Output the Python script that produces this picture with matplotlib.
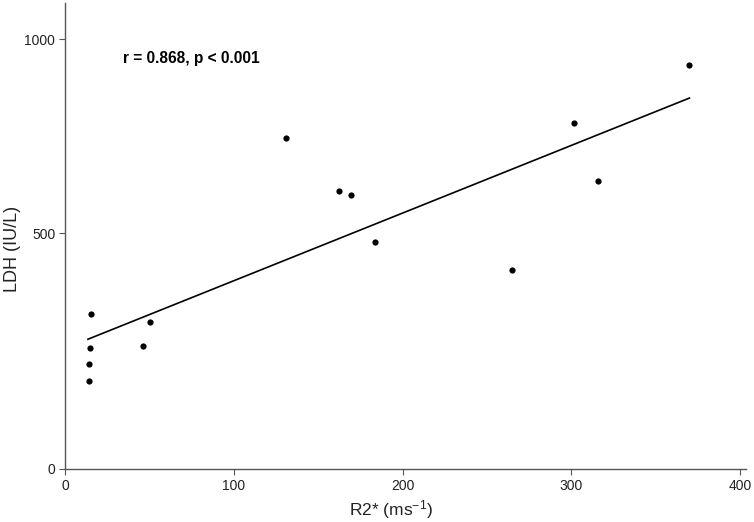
import numpy as np
import matplotlib
matplotlib.use("Agg")
import matplotlib.pyplot as plt

plt.rcParams['font.family'] = ['Liberation Sans', 'DejaVu Sans']
plt.rcParams['mathtext.fontset'] = 'custom'
plt.rcParams['mathtext.rm'] = 'Liberation Sans'
plt.rcParams['mathtext.it'] = 'Liberation Sans'
plt.rcParams['mathtext.bf'] = 'Liberation Sans:bold'

# data (R2* in ms^-1, LDH in IU/L)
r2 = [15.2, 14.6, 14.2, 14.2, 46.0, 50.5, 131.0, 162.4, 169.3, 183.7, 264.7, 301.4, 315.9, 369.6]
ldh = [328, 256, 222, 187, 261, 311, 744, 608, 597, 480, 422, 783, 634, 932]
fit_x = [13.6, 370.0]
fit_y = [275, 848]
x_ticks = [0, 100, 200, 300, 400]
y_ticks = [0, 500, 1000]

# piecewise-linear y scale as in the original (ticks not equally spaced)
y_vals = np.array([0.0, 500.0, 1000.0, 1500.0])
y_pos = np.array([0.0, 236.0, 430.0, 624.0])

def fwd(v):
    return np.interp(v, y_vals, y_pos)

def inv(p):
    return np.interp(p, y_pos, y_vals)

fig = plt.figure(figsize=(7.54, 5.22), dpi=100)
ax = fig.add_axes([65/754, 53/522, (746-65)/754, (469-3)/522])
ax.set_yscale('function', functions=(fwd, inv))

ax.scatter(r2, ldh, s=20, color='black', zorder=3, linewidths=0)
ax.plot(fit_x, fit_y, color='black', lw=1.2)

ax.set_xlim(0, 403.5)
ax.set_ylim(0, 1093)
ax.set_xticks(x_ticks)
ax.set_yticks(y_ticks)
ax.set_xticklabels([str(t) for t in x_ticks])
ax.set_yticklabels([str(t) for t in y_ticks])
ax.minorticks_off()

for s in ['top', 'right']:
    ax.spines[s].set_visible(False)
for s in ['left', 'bottom']:
    ax.spines[s].set_color('#555555')
    ax.spines[s].set_linewidth(1.0)
ax.tick_params(axis='both', direction='out', length=4, width=0.8, color='#555555',
               labelsize=10, labelcolor='#222222', pad=3)

ax.set_xlabel(r'R2* (ms$^{-1}$)', fontsize=12.5, color='#222222')
ax.xaxis.label.set_va('center')
ax.xaxis.set_label_coords((391-65)/(746-65), -(509.5-469)/466)
ax.set_ylabel('LDH (IU/L)', fontsize=13, color='#222222')
ax.yaxis.label.set_va('center')
ax.yaxis.set_label_coords(-(65-12)/681, (469-249)/466)

ax.text((123-65)/681, (469-58)/466, 'r = 0.868, p < 0.001', transform=ax.transAxes,
        fontsize=11.2, fontweight='bold', ha='left', va='center', color='black')

fig.savefig('out.png', dpi=100)
